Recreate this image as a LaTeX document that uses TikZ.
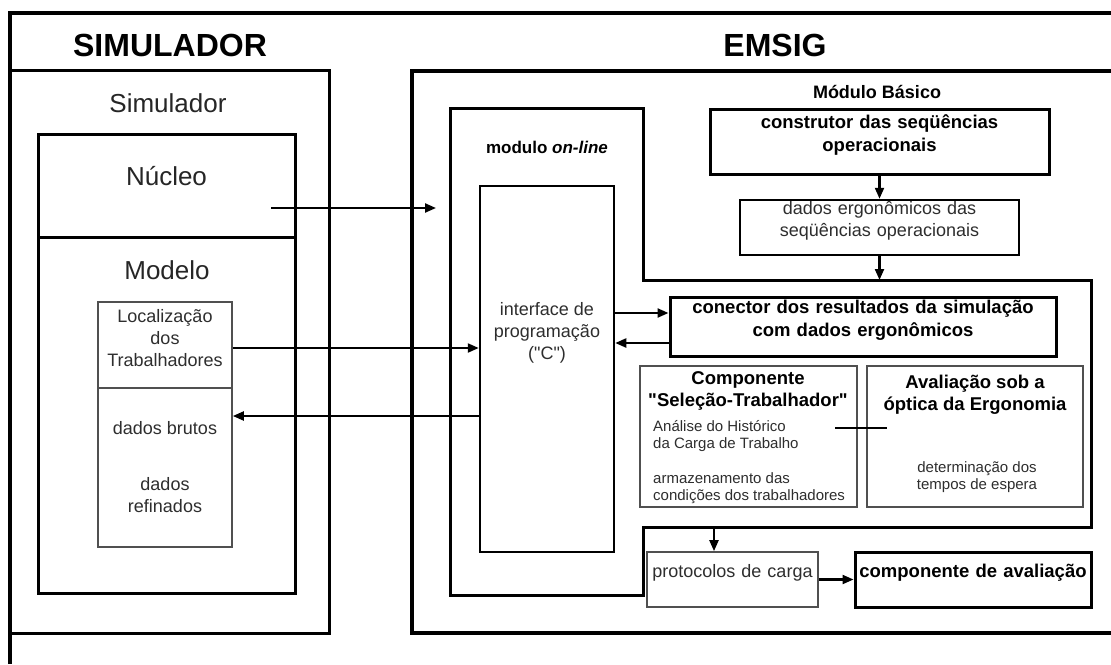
\documentclass[tikz,border=0pt]{standalone}
\usepackage{fontspec}
\setmainfont{Liberation Sans}
\usetikzlibrary{arrows.meta,fit}
\definecolor{txtgray}{HTML}{2E2E2E}
\definecolor{linegray}{HTML}{505050}
\newcommand{\fsz}[2]{\fontsize{#1}{#2}\selectfont}
\newcommand{\sq}{\XeTeXglyph\XeTeXglyphindex "quotedbl" \relax}
\begin{document}
\begin{tikzpicture}[x=1pt,y=-1pt,
  bxA/.style={draw, line width=3pt, inner sep=0pt},
  bxB/.style={draw, line width=2.5pt, inner sep=0pt},
  bxT/.style={draw=linegray, line width=1.7pt, inner sep=0pt},
  frameline/.style={line width=3.2pt},
  arr/.style={line width=2.2pt, -{Triangle[length=11pt,width=9pt]}},
  lbl/.style={inner sep=0pt, align=center, text=txtgray, font=\fsz{18}{22}},
  slbl/.style={inner sep=0pt, align=left, text=txtgray, font=\fsz{15}{17}},
  blbl/.style={inner sep=0pt, align=center, font=\bfseries\fsz{18}{22}},
  title/.style={inner sep=0pt, font=\bfseries\fsz{32}{36}},
  sub/.style={inner sep=0pt, font=\fsz{26}{30}, text=black!85}
]
\useasboundingbox (0,0) rectangle (1111,664);
\fill[white] (0,0) rectangle (1111,664);

% outer frame (cut by the picture edge)
\draw[frameline] (10,664) -- (10,13) -- (1111,13);

% titles
\node[title] (tsim) at (170,45) {SIMULADOR};
\node[title] (temsig) at (775,45) {EMSIG};

% ---------------- SIMULADOR side ----------------
\node[bxA, fit={(10,70) (329,633)}] (simbox) {};
\node[sub] (tsimulador) at (168,103) {Simulador};
\node[bxA, fit={(38,134) (295,237)}, font=\fsz{26}{30}, text=black!85] (nucleo) {Núcleo};
\node[bxA, fit={(38,237) (295,593)}] (modelo) {};
\node[sub] (tmodelo) at (167,270) {Modelo};
\node[bxT, fit={(98,302) (232,388)}, lbl] (loc) {Localização\\dos\\Trabalhadores};
\node[bxT, fit={(98,388) (232,547)}] (dados) {};
\node[lbl] (tbrutos) at (165,428) {dados brutos};
\node[lbl] (trefinados) at (165,495) {dados\\refinados};

% ---------------- EMSIG side ----------------
\draw[frameline] (1111,71) -- (412,71) -- (412,633) -- (1111,633);

% modulo on-line outline
\coordinate (m1) at (450,108);
\coordinate (m2) at (643,108);
\coordinate (m3) at (643,280);
\coordinate (m4) at (1091,280);
\coordinate (m5) at (1091,527);
\coordinate (m6) at (643,527);
\coordinate (m7) at (643,595);
\coordinate (m8) at (450,595);
\draw[line width=3pt, line join=miter] (m1) -- (m2) -- (m3) -- (m4) -- (m5) -- (m6) -- (m7) -- (m8) -- cycle;
\node[blbl, font=\bfseries\fsz{17}{20}] (tmodulo) at (547,147) {modulo \textit{on-line}};

\node[bxB, fit={(480,186) (614,552)}] (iface) {};
\node[lbl] (tiface) at (547,333) {interface de\\programação\\(\sq C\sq)};

\node[blbl] (tbasico) at (877,92) {Módulo Básico};
\node[bxA, fit={(710,109) (1049,174)}, blbl, font=\bfseries\fsz{18.5}{23}] (construtor) {construtor das seqüências\\operacionais};
\node[bxB, fit={(740,200) (1019,255)}, lbl] (dadosergo) {dados ergonômicos das\\seqüências operacionais};
\node[bxA, fit={(670,297) (1056,356)}, blbl, font=\bfseries\fsz{18.5}{23}] (conector) {conector dos resultados da simulação\\com dados ergonômicos};

\node[bxT, fit={(640,366) (857,507)}] (compsel) {};
\node[blbl, font=\bfseries\fsz{18.5}{22}] (tcomp) at (748,391) {Componente\\\sq Seleção-Trabalhador\sq};
\node[slbl, anchor=north west] (tanalise) at (653,420) {Análise do Histórico\\da Carga de Trabalho};
\node[slbl, anchor=north west] (tarmaz) at (653,472) {armazenamento das\\condições dos trabalhadores};

\node[bxT, fit={(867,366) (1083,507)}] (aval) {};
\node[blbl, font=\bfseries\fsz{18.5}{22}] (taval) at (975,395) {Avaliação sob a\\óptica da Ergonomia};
\node[slbl, align=center] (tdeterm) at (977,477) {determinação dos\\tempos de espera};

\node[bxT, fit={(647,552) (818,607)}, lbl] (protocolos) {protocolos de carga};
\node[bxA, fit={(855,552) (1091,607)}, blbl, font=\bfseries\fsz{18.5}{22}] (compaval) {componente de avaliação};

% ---------------- connectors ----------------
\coordinate (n1) at (271,208);
\coordinate (n2) at (436,208);
\draw[arr] (n1) -- (n2);

\draw[arr] (loc.east |- 0,348) -- (iface.west |- 0,348);
\draw[arr] (iface.west |- 0,416) -- (dados.east |- 0,416);

\draw[arr] (iface.east |- 0,313) -- (conector.west |- 0,313);
\draw[arr] (conector.west |- 0,343) -- (iface.east |- 0,343);

\draw[arr] (construtor.south) -- (dadosergo.north);
\coordinate (mB) at (879.5,280);
\draw[arr] (dadosergo.south) -- (mB);

\coordinate (mC) at (714,527);
\draw[arr] (mC) -- (mC |- protocolos.north);
\draw[arr] (protocolos.east) -- (compaval.west);

\coordinate (c1) at (835,428);
\coordinate (c2) at (887,428);
\draw[line width=1.8pt] (c1) -- (c2);
\end{tikzpicture}
\end{document}
